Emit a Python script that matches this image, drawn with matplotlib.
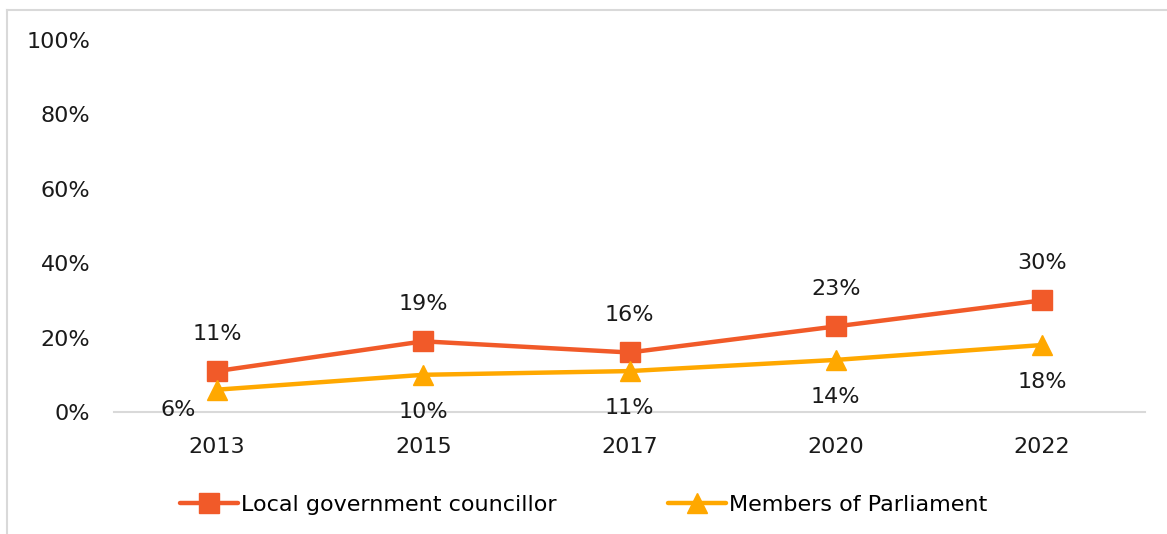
import matplotlib.pyplot as plt
from matplotlib.lines import Line2D

years = ['2013', '2015', '2017', '2020', '2022']
local_councillor = [11, 19, 16, 23, 30]
members_parliament = [6, 10, 11, 14, 18]
y_ticks = [0, 20, 40, 60, 80, 100]

RED = '#F15A29'
AMBER = '#FFA800'
GREY = '#D9D9D9'

plt.rcParams['font.family'] = ['DejaVu Sans']
FS = 16

fig = plt.figure(figsize=(11.67, 5.34), dpi=100)
ax = fig.add_axes([114 / 1167, 1 - 412 / 534, (1145 - 114) / 1167, (412 - 40) / 534])

x = list(range(len(years)))
ax.plot(x, local_councillor, color=RED, lw=3.2, marker='s', ms=15,
        label='Local government councillor', solid_capstyle='round', zorder=3)
ax.plot(x, members_parliament, color=AMBER, lw=3.2, marker='^', ms=15,
        label='Members of Parliament', solid_capstyle='round', zorder=3)

# value labels: councillors above, MPs below
for i, v in enumerate(local_councillor):
    ax.annotate(f'{v}%', (i, v), xytext=(0, 37), textcoords='offset pixels',
                ha='center', va='center', fontsize=FS, color='#1a1a1a')
for i, v in enumerate(members_parliament):
    off = (-39, -20) if i == 0 else (0, -37)
    ax.annotate(f'{v}%', (i, v), xytext=off, textcoords='offset pixels',
                ha='center', va='center', fontsize=FS, color='#1a1a1a')

ax.set_xlim(-0.5, len(years) - 0.5)
ax.set_ylim(0, 100)
ax.set_xticks(x)
ax.set_xticklabels(years)
ax.set_yticks(y_ticks)
ax.set_yticklabels([f'{t}%' for t in y_ticks])
ax.tick_params(axis='both', length=0, labelsize=FS, colors='#1a1a1a')
ax.tick_params(axis='y', pad=17)
ax.tick_params(axis='x', pad=18)
for side in ['top', 'right', 'left']:
    ax.spines[side].set_visible(False)
ax.spines['bottom'].set_color(GREY)
ax.spines['bottom'].set_linewidth(1.5)
ax.set_facecolor('none')

fig.legend(loc='center', bbox_to_anchor=(0.5, 1 - 505 / 534), ncol=2,
           frameon=False, fontsize=FS, handlelength=2.6, handletextpad=0.15,
           columnspacing=5.0)

# outer chart frame
fig.add_artist(Line2D([7 / 1167, 7 / 1167], [0, 1 - 10 / 534], color=GREY, lw=1.5))
fig.add_artist(Line2D([7 / 1167, 1], [1 - 10 / 534, 1 - 10 / 534], color=GREY, lw=1.5))

fig.savefig('out.png', dpi=100, facecolor='white')
